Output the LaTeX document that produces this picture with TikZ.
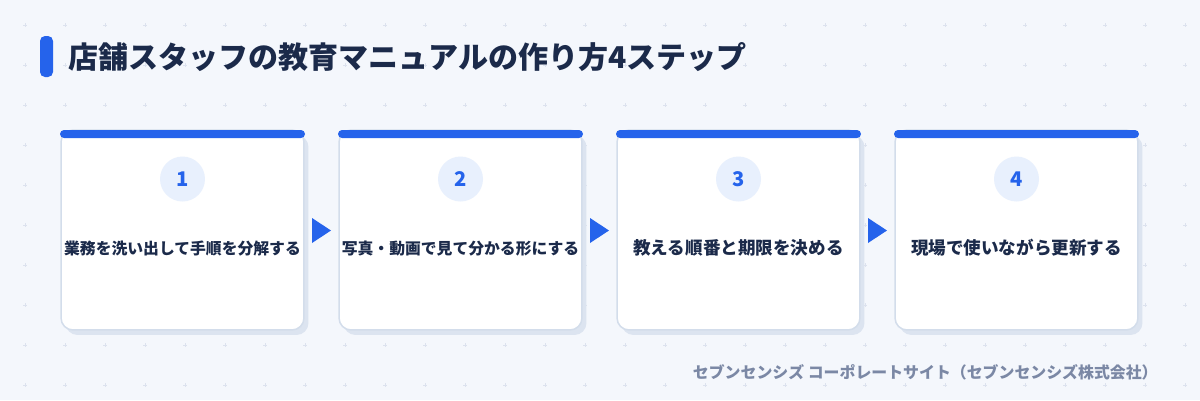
\documentclass[tikz,border=0pt]{standalone}
\usepackage{fontspec}
\setmainfont{Noto Sans CJK JP}
\usepackage{tikz}
\usetikzlibrary{shadows}
\usetikzlibrary{positioning}
\definecolor{bgc}{HTML}{F4F7FC}
\definecolor{dotc}{HTML}{DCE2EE}
\definecolor{mainblue}{HTML}{2563EB}
\definecolor{navy}{HTML}{1B2A4A}
\definecolor{cardline}{HTML}{D3DDEB}
\definecolor{shadowc}{HTML}{DCE4F0}
\definecolor{circfill}{HTML}{E8F0FD}
\definecolor{footc}{HTML}{7B88A5}

\begin{document}
\begin{tikzpicture}[x=0.02cm, y=-0.02cm,
    card/.style={draw=cardline, fill=white, line width=0.03cm, rounded corners=0.24cm,
        minimum width=4.86cm, minimum height=4cm, inner sep=0pt,
        drop shadow={shadow xshift=0.09cm, shadow yshift=-0.1cm, fill=shadowc, opacity=1}},
    topbar/.style={fill=mainblue, rounded corners=0.08cm},
    numcirc/.style={circle, fill=circfill, minimum size=0.9cm, inner sep=0pt, text=mainblue,
        font=\bfseries\fontsize{11.5}{12}\selectfont},
    steptext/.style={inner sep=0pt, text=navy, font=\bfseries\fontsize{9}{10}\selectfont},
    bigtext/.style={steptext, font=\bfseries\fontsize{10}{11}\selectfont},
    arrowtri/.style={fill=mainblue}]
                \useasboundingbox (0,0) rectangle (1200,400);
                \fill[bgc] (0,0) rectangle (1200,400);
                % faint plus grid
                \foreach \i in {0,...,29}
                    \foreach \j in {0,...,9}
                        \draw[dotc, line width=0.02cm] (25+40*\i-2,25+40*\j) -- ++(4,0) (25+40*\i,25+40*\j-2) -- ++(0,4);

                % title
                \fill[mainblue, rounded corners=0.1cm] (40,36) rectangle (53,77);
                \node[anchor=west, inner sep=0pt, text=navy, font=\bfseries\fontsize{17.1}{20}\selectfont] (title) at (68,57) {店舗スタッフの教育マニュアルの作り方4ステップ};

                % step 1
                \node[card] (card1) at (182.5,230) {};
                \fill[topbar] (60,130) rectangle (305,138);
                \node[numcirc] (num1) at (182.5,179) {1};
                \node[steptext] (step1) at (182.5,249) {業務を洗い出して手順を分解する};
                \fill[arrowtri] (312,218) -- (331,230.5) -- (312,243) -- cycle;

                % step 2
                \node[card] (card2) at (460.5,230) {};
                \fill[topbar] (338,130) rectangle (583,138);
                \node[numcirc] (num2) at (460.5,179) {2};
                \node[steptext] (step2) at (460.5,249) {写真・動画で見て分かる形にする};
                \fill[arrowtri] (590,218) -- (609,230.5) -- (590,243) -- cycle;

                % step 3
                \node[card] (card3) at (738.5,230) {};
                \fill[topbar] (616,130) rectangle (861,138);
                \node[numcirc] (num3) at (738.5,179) {3};
                \node[bigtext] (step3) at (738.5,248) {教える順番と期限を決める};
                \fill[arrowtri] (868,218) -- (887,230.5) -- (868,243) -- cycle;

                % step 4
                \node[card] (card4) at (1016.5,230) {};
                \fill[topbar] (894,130) rectangle (1139,138);
                \node[numcirc] (num4) at (1016.5,179) {4};
                \node[bigtext] (step4) at (1016.5,248) {現場で使いながら更新する};

                % source
                \node[anchor=east, inner sep=0pt, text=footc, font=\bfseries\fontsize{9.05}{10}\selectfont] (footer) at (1158,372) {セブンセンシズ コーポレートサイト（セブンセンシズ株式会社）};
\end{tikzpicture}
\end{document}
